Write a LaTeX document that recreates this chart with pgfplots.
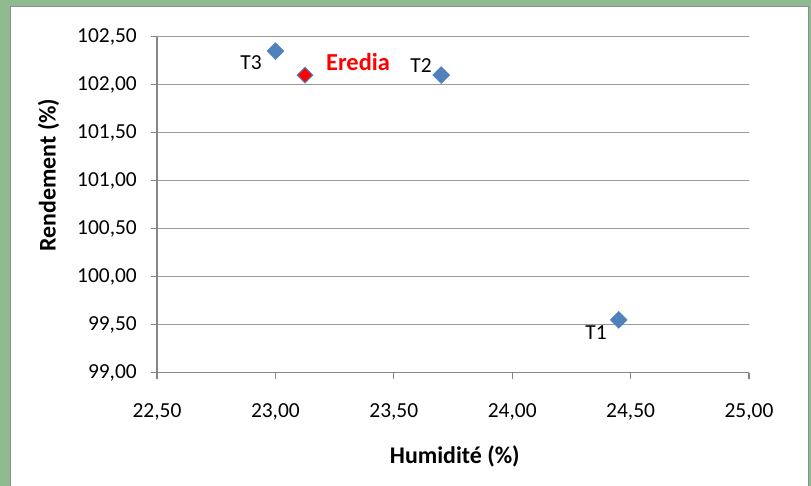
\documentclass[border=0pt]{standalone}
\usepackage{pgfplots}
\pgfplotsset{compat=1.18}
\usepackage{fontspec}
\setmainfont{Carlito}
\definecolor{cadre}{RGB}{143,185,143}
\definecolor{bordgris}{RGB}{140,140,140}
\definecolor{axegris}{RGB}{134,134,134}
\definecolor{grille}{RGB}{152,152,152}
\definecolor{bleu}{RGB}{79,129,189}
\definecolor{bleufonce}{RGB}{60,105,165}
\begin{document}
\begin{tikzpicture}
% fond et cadre vert
\fill[cadre] (-157bp,-113.3bp) rectangle (654bp,372.7bp);
\filldraw[fill=white,draw=bordgris,line width=1bp] (-146bp,-120bp) rectangle (651bp,365.7bp);
\begin{axis}[
    scale only axis,
    width=592bp, height=336bp,
    xmin=22.5, xmax=25, ymin=99, ymax=102.5,
    xtick={22.5,23,...,25},
    ytick={99,99.5,...,102.5},
    axis lines*=left,
    axis line style={axegris, line width=1.3bp},
    ymajorgrids=true,
    grid style={grille, line width=1bp},
    tick align=outside,
    major tick length=6bp,
    tick style={axegris, line width=1.3bp},
    /pgf/number format/.cd, fixed, fixed zerofill, precision=2, use comma, 1000 sep={}, assume math mode=true,
    /pgfplots/.cd,
    ticklabel style={font=\fontsize{21.5}{24}\selectfont, inner sep=0pt},
    yticklabel style={xshift=-14bp},
    xticklabel style={yshift=-25bp},
    clip=false,
]
\addplot[only marks, mark=square*, mark size=6bp,
    mark options={rotate=45, fill=bleu, draw=bleu}]
    coordinates {(24.45,99.55) (23.70,102.10) (23.00,102.35)};
\addplot[only marks, mark=square*, mark size=5.5bp,
    mark options={rotate=45, fill=red, draw=bleu, line width=1bp}]
    coordinates {(23.125,102.10)};
\node[font=\fontsize{21.5}{24}\selectfont, inner sep=0pt] at (axis cs:24.354,99.414) {T1};
\node[font=\fontsize{21.5}{24}\selectfont, inner sep=0pt] at (axis cs:23.615,102.195) {T2};
\node[font=\fontsize{21.5}{24}\selectfont, inner sep=0pt] at (axis cs:22.897,102.226) {T3};
\node[font=\bfseries\fontsize{24.5}{28}\selectfont, text=red, inner sep=0pt] at (axis cs:23.349,102.236) {Eredia};
\node[font=\bfseries\fontsize{24}{28}\selectfont, anchor=base, inner sep=0pt]
    at (axis description cs:0.503,-0.2696) {Humidité (\%)};
\node[font=\bfseries\fontsize{24}{28}\selectfont, anchor=base, rotate=90, inner sep=0pt]
    at (axis description cs:-0.1711,0.588) {Rendement (\%)};
\end{axis}
\pgfresetboundingbox
\path[use as bounding box] (-157bp,-113.3bp) rectangle (654bp,372.7bp);
\end{tikzpicture}
\end{document}
